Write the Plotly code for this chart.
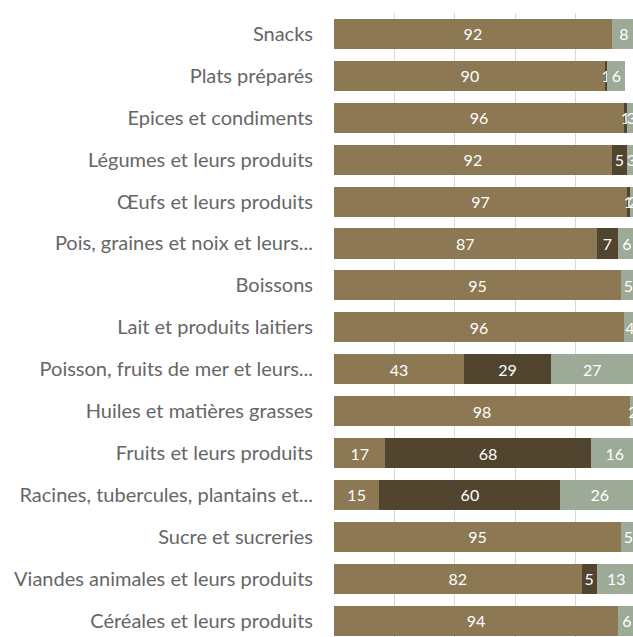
import plotly.graph_objects as go

categories = [
    "Snacks", "Plats préparés", "Epices et condiments", "Légumes et leurs produits",
    "Œufs et leurs produits", "Pois, graines et noix et leurs...", "Boissons",
    "Lait et produits laitiers", "Poisson, fruits de mer et leurs...",
    "Huiles et matières grasses", "Fruits et leurs produits",
    "Racines, tubercules, plantains et...", "Sucre et sucreries",
    "Viandes animales et leurs produits", "Céréales et leurs produits",
]
serie1 = [92, 90, 96, 92, 97, 87, 95, 96, 43, 98, 17, 15, 95, 82, 94]
serie2 = [0, 0.5, 1, 5, 1, 7, 0, 0, 29, 0, 68, 60, 0, 5, 0]
serie3 = [8, 6, 3, 3, 2, 6, 5, 4, 27, 2, 16, 26, 5, 13, 6]
labels2 = ["", "1", "1", "5", "1", "7", "", "", "29", "", "68", "60", "", "5", ""]

colors = ["#8C7853", "#51452F", "#9DAA97"]
font_lbl = "Lato, 'Open Sans', sans-serif"

fig = go.Figure()
for vals, col, txt in [
    (serie1, colors[0], [str(v) if v else "" for v in serie1]),
    (serie2, colors[1], labels2),
    (serie3, colors[2], [str(v) if v else "" for v in serie3]),
]:
    fig.add_trace(go.Bar(
        y=categories, x=vals, orientation="h", marker=dict(color=col, line=dict(width=0)),
        text=txt, textposition="inside", insidetextanchor="middle",
        constraintext="none", cliponaxis=False,
        textfont=dict(color="white", size=16, family=font_lbl),
        hoverinfo="x+y",
    ))

fig.update_layout(
    barmode="stack", bargap=0.28, showlegend=False,
    width=642, height=637,
    margin=dict(l=334, r=0, t=13, b=0),
    plot_bgcolor="white", paper_bgcolor="white",
    xaxis=dict(range=[0, 102], tickvals=[0, 20, 40, 60, 80, 100], showticklabels=False,
               showgrid=True, gridcolor="#D9D9D9", gridwidth=1.3, zeroline=False,
               showline=True, linecolor="#D9D9D9", linewidth=2, fixedrange=True),
    yaxis=dict(categoryorder="array", categoryarray=categories,
               range=[14.39, -0.5], showgrid=False, zeroline=False,
               ticks="", ticklabelstandoff=20,
               tickfont=dict(color="#666666", size=20, family=font_lbl)),
    uniformtext=dict(mode=False),
)

fig.write_html(
    "out.html",
    config={"displayModeBar": False},
    post_script="document.body.style.margin='0';document.body.style.overflow='hidden';",
)
